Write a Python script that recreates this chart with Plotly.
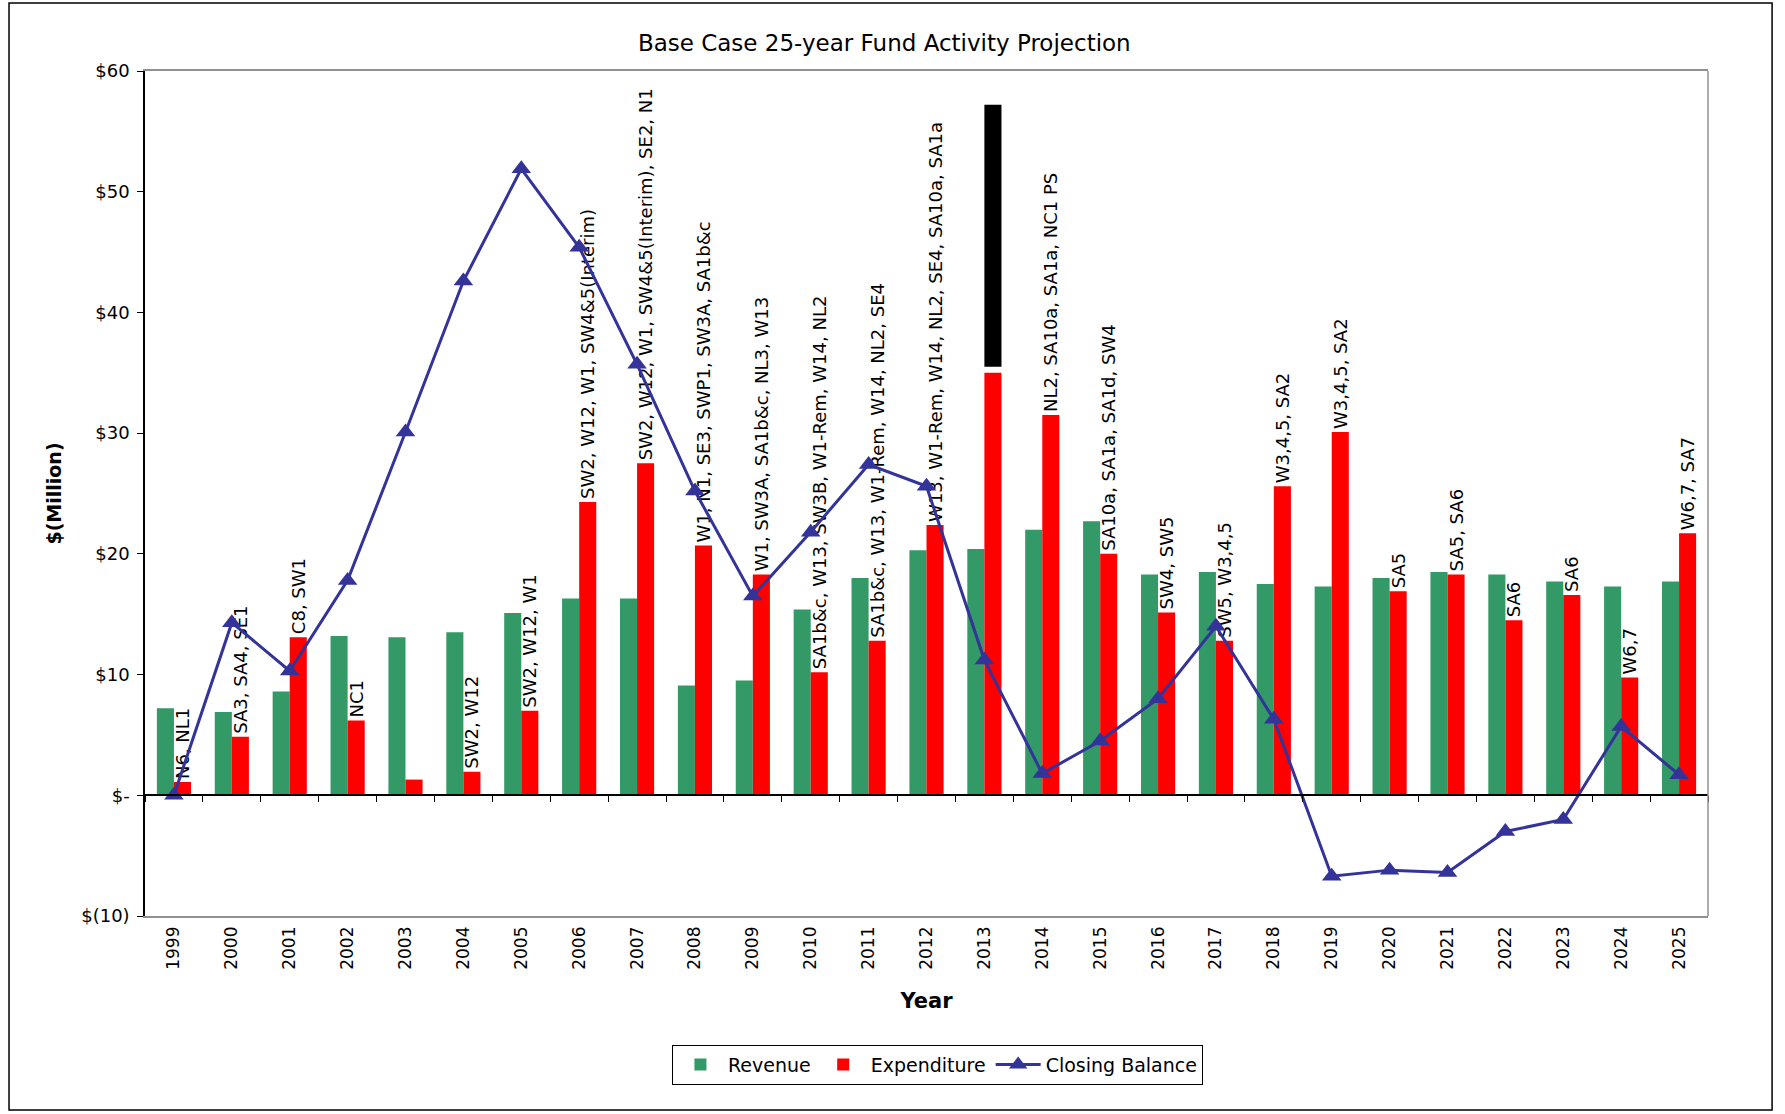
import plotly.graph_objects as go

# ---------------- data ----------------
years = [str(y) for y in range(1999, 2026)]

revenue = [7.2, 6.9, 8.6, 13.2, 13.1, 13.5, 15.1, 16.3, 16.3, 9.1, 9.5, 15.4, 18.0, 20.3,
           20.4, 22.0, 22.7, 18.3, 18.5, 17.5, 17.3, 18.0, 18.5, 18.3, 17.7, 17.3, 17.7]

expenditure = [1.1, 4.85, 13.1, 6.2, 1.3, 1.95, 7.0, 24.3, 27.5, 20.7, 18.3, 10.2, 12.8, 22.4,
               35.0, 31.5, 20.0, 15.15, 12.8, 25.6, 30.1, 16.9, 18.3, 14.5, 16.6, 9.75, 21.7]

closing_balance = [0.0, 14.3, 10.3, 17.8, 30.1, 42.6, 51.9, 45.4, 35.7, 25.2, 16.5, 21.8, 27.4,
                   25.6, 11.2, 1.8, 4.5, 8.0, 14.0, 6.3, -6.7, -6.2, -6.4, -3.0, -2.0, 5.7, 1.7]

project_labels = [
    "N6, NL1", "SA3, SA4, SE1", "C8, SW1", "NC1", "", "SW2, W12", "SW2, W12, W1",
    "SW2, W12, W1, SW4&5(Interim)", "SW2, W12, W1, SW4&5(Interim), SE2, N1",
    "W1, N1, SE3, SWP1, SW3A, SA1b&c", "W1, SW3A, SA1b&c, NL3, W13",
    "SA1b&c, W13, SW3B, W1-Rem, W14, NL2", "SA1b&c, W13, W1-Rem, W14, NL2, SE4",
    "W13, W1-Rem, W14, NL2, SE4, SA10a, SA1a", "", "NL2, SA10a, SA1a, NC1 PS",
    "SA10a, SA1a, SA1d, SW4", "SW4, SW5", "SW5, W3,4,5", "W3,4,5, SA2", "W3,4,5, SA2",
    "SA5", "SA5, SA6", "SA6", "SA6", "W6,7", "W6,7, SA7",
]

# black block drawn above the 2013 expenditure bar
flag_years = ["2013"]
flag_low = [35.5]
flag_high = [57.2]

y_tick_vals = [60, 50, 40, 30, 20, 10, 0, -10]
y_tick_text = ["$60", "$50", "$40", "$30", "$20", "$10", "$-", "$(10)"]
y_min, y_max = -10, 60

FONT = "DejaVu Sans"

fig = go.Figure()

fig.add_trace(go.Bar(
    x=years, y=revenue, name="Revenue", marker_color="#339966",
    offsetgroup="rev", marker_line_width=0,
))
fig.add_trace(go.Bar(
    x=years, y=expenditure, name="Expenditure", marker_color="#FF0000",
    offsetgroup="exp", marker_line_width=0,
    text=project_labels, textposition="outside", textangle=-90,
    constraintext="none", cliponaxis=False,
    textfont=dict(family=FONT, size=18, color="black"),
))
fig.add_trace(go.Bar(
    x=flag_years, y=[h - l for h, l in zip(flag_high, flag_low)], base=flag_low,
    marker_color="black", offsetgroup="exp", showlegend=False, marker_line_width=0,
))
fig.add_trace(go.Scatter(
    x=years, y=closing_balance, name="Closing Balance", mode="lines+markers",
    line=dict(color="#333399", width=3),
    marker=dict(symbol="triangle-up", size=17, color="#333399"),
    cliponaxis=False,
))
# helper trace for the zero-line axis with category-boundary ticks
fig.add_trace(go.Scatter(x=[], y=[], xaxis="x2", showlegend=False, hoverinfo="skip"))

n = len(years)
zero_pos = (0 - y_min) / (y_max - y_min)

fig.update_layout(
    width=1785, height=1114,
    margin=dict(l=145, r=77, t=71, b=198),
    paper_bgcolor="white", plot_bgcolor="white",
    font=dict(family=FONT, color="black"),
    barmode="group", bargap=0.41, bargroupgap=0,
    title=dict(text="Base Case 25-year Fund Activity Projection",
               x=0.473, xref="paper", xanchor="center",
               y=1 - 43 / 1114, yref="container", yanchor="middle",
               font=dict(family=FONT, size=23, color="black")),
    xaxis=dict(
        type="category", tickangle=-90, ticks="", showgrid=False,
        showline=True, linecolor="#909090", linewidth=1.5, mirror=True,
        tickfont=dict(family=FONT, size=17, color="black"),
        ticklabelstandoff=2,
        title=dict(text="<b>Year</b>", font=dict(family=FONT, size=21, color="black"), standoff=24),
        range=[-0.5, n - 0.5],
    ),
    xaxis2=dict(
        overlaying="x", anchor="free", position=zero_pos, type="linear",
        range=[-0.5, n - 0.5], tickvals=[i - 0.5 for i in range(n + 1)],
        ticks="outside", ticklen=6, tickcolor="black", showticklabels=False,
        showline=True, linecolor="black", linewidth=1.5, showgrid=False, zeroline=False,
    ),
    yaxis=dict(
        range=[y_min, y_max], tickvals=y_tick_vals, ticktext=y_tick_text,
        ticks="outside", ticklen=6, tickcolor="black", showgrid=False, zeroline=False,
        showline=True, linecolor="black", linewidth=1.5,
        tickfont=dict(family=FONT, size=18, color="black"),
        ticklabelstandoff=4,
        title=dict(text="<b>$(Million)</b>", font=dict(family=FONT, size=19, color="black")),
    ),
    legend=dict(
        orientation="h", x=0.507, xanchor="center", y=-0.176, yanchor="middle",
        bordercolor="black", borderwidth=1, bgcolor="white",
        font=dict(family=FONT, size=19, color="black"), itemwidth=45,
    ),
    shapes=[
        dict(type="line", xref="paper", yref="paper", x0=1, x1=1, y0=0, y1=1,
             line=dict(color="#909090", width=1.5)),
        dict(type="rect", xref="paper", yref="paper", x0=-0.087, x1=1.041,
             y0=-0.2296, y1=1.0805, line=dict(color="black", width=1.5), layer="below"),
    ],
)

fig.write_html("out.html", config={"displayModeBar": False},
               post_script="document.body.style.margin='0';")
